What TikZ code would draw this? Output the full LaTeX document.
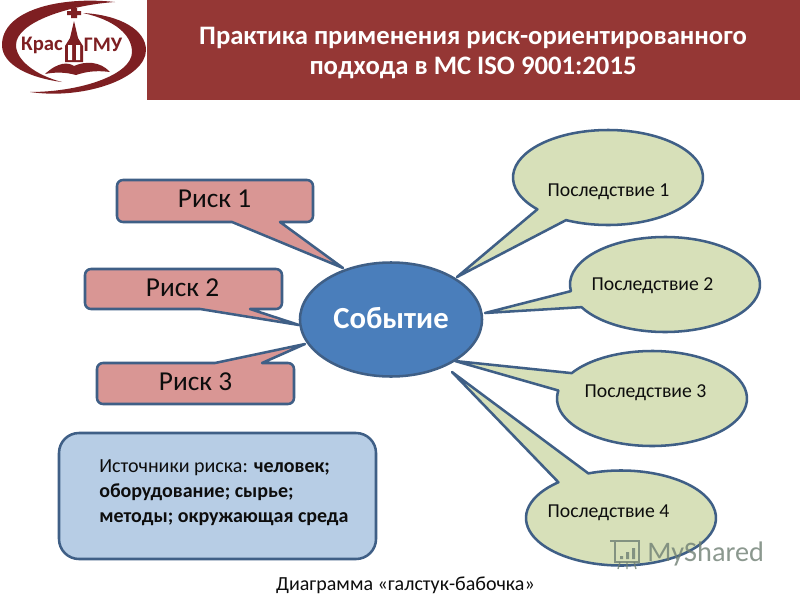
\documentclass[tikz,border=0pt]{standalone}
\usepackage{fontspec}
\setmainfont{Carlito}
\definecolor{hdr}{HTML}{953735}
\definecolor{logored}{HTML}{7E1F22}
\definecolor{edgeblue}{HTML}{3F5F86}
\definecolor{riskfill}{HTML}{D99694}
\definecolor{conseq}{HTML}{D7E0B9}
\definecolor{evfill}{HTML}{4A7EBB}
\definecolor{srcfill}{HTML}{B7CDE5}
\definecolor{wmgray}{HTML}{6F7F73}
\tikzset{
  shapeline/.style={draw=edgeblue,line width=1.9pt,line join=round},
  risktext/.style={font=\fontsize{20.5}{24}\selectfont,text=black!95,inner sep=0pt},
  conseqtext/.style={font=\fontsize{14.8}{18}\selectfont,text=black!95,inner sep=0pt},
  logotext/.style={font=\bfseries\fontsize{15.5}{18}\selectfont,text=logored,inner sep=0pt},
}
% centre x, centre y, tip x, tip y, start angle, end angle
\newcommand{\bubble}[6]{%
  \draw[shapeline,fill=conseq] (#3,#4) -- ({#1+95*cos(#5)},{#2+47.5*sin(#5)})
    arc[start angle=#5,end angle=#6,x radius=95,y radius=47.5] -- cycle;}
% left, top, right, bottom, then pointer: base a x, tip x, tip y, base b x
\newcommand{\riskbelow}[8]{%
  \draw[shapeline,fill=riskfill] (#5,#4) -- (#6,#7) -- (#8,#4)
    [rounded corners=4.5] -- (#3,#4) -- (#3,#2) -- (#1,#2) -- (#1,#4) [sharp corners] -- cycle;}
\newcommand{\riskabove}[8]{%
  \draw[shapeline,fill=riskfill] (#5,#2) -- (#6,#7) -- (#8,#2)
    [rounded corners=4.5] -- (#3,#2) -- (#3,#4) -- (#1,#4) -- (#1,#2) [sharp corners] -- cycle;}
\begin{document}
\begin{tikzpicture}[x=0.75pt,y=-0.75pt]
\useasboundingbox (0,0) rectangle (800,600);
\fill[white] (0,0) rectangle (800,600);
% header
\fill[hdr] (147,0) rectangle (800,100);
\node[align=center,text=white,font=\bfseries\fontsize{20}{22.5}\selectfont,inner sep=0pt] (title) at (473,53.5)
  {Практика применения риск-ориентированного\\подхода в МС ISO 9001:2015};
% logo
\fill[logored] (115,2) .. controls (60,-4) and (2,10) .. (2,45) .. controls (2,65) and (30,78) .. (62,82)
  .. controls (35,75) and (16,60) .. (16,45) .. controls (16,22) and (70,5) .. (115,2) -- cycle;
\fill[logored] (83,13) .. controls (120,15) and (146,30) .. (146,50) .. controls (146,78) and (85,100) .. (30,92)
  .. controls (80,92) and (132,75) .. (132,52) .. controls (132,35) and (115,20) .. (83,13) -- cycle;
\fill[logored] (74,21) -- (78,38) -- (83,46) -- (83,62) -- (65,62) -- (65,46) -- (70,38) -- cycle;
\fill[white] (68,45) rectangle (72,60) (76,45) rectangle (80,60);
\fill[logored] (71,8) rectangle (77,18) (67,11) rectangle (81,15);
\fill[logored] (45,74) .. controls (58,62) and (68,62) .. (74,66) .. controls (85,61) and (100,61) .. (110,72)
  .. controls (95,70) and (85,72) .. (76,75) .. controls (65,72) and (55,72) .. (45,74) -- cycle;
\node[logotext] (logoa) at (42,45) {Крас};
\node[logotext] (logob) at (103,45) {ГМУ};
% consequences
\bubble{608}{177.5}{457}{277}{138}{476.2}
\bubble{665}{284.5}{485}{313}{172}{511.5}
\bubble{652}{398.5}{455}{361}{212.3}{549.7}
\bubble{621}{518}{452}{372}{249.9}{588.8}
\node[conseqtext] (c1) at (608.5,192) {Последствие 1};
\node[conseqtext] (c2) at (652.5,286) {Последствие 2};
\node[conseqtext] (c3) at (645.5,393) {Последствие 3};
\node[conseqtext] (c4) at (608.5,513) {Последствие 4};
% risks
\riskbelow{117}{180}{313}{222}{232}{343}{268}{280}
\riskbelow{85}{269}{282}{309}{200}{299}{325}{250}
\riskabove{97}{363}{294}{404}{215}{305}{344}{262}
\node[risktext] (r1) at (214.5,199) {Риск 1};
\node[risktext] (r2) at (182.5,287.5) {Риск 2};
\node[risktext] (r3) at (195.5,382) {Риск 3};
% event
\draw[shapeline,fill=evfill] (391,319.5) ellipse [x radius=91,y radius=57];
\node[text=white,font=\bfseries\fontsize{23}{26}\selectfont,inner sep=0pt] (event) at (391,318) {Событие};
% sources
\draw[shapeline,fill=srcfill,rounded corners=15] (59,433) rectangle (376,559);
\node[anchor=west,align=left,text=black!95,font=\fontsize{15}{18.6}\selectfont,inner sep=0pt] (src) at (99,492.5)
  {Источники риска: \textbf{человек;}\\\textbf{оборудование; сырье;}\\\textbf{методы; окружающая среда}};
% caption
\node[text=black!95,font=\fontsize{15}{18}\selectfont,inner sep=0pt] (cap) at (405.5,585) {Диаграмма «галстук-бабочка»};
% watermark
\begin{scope}[opacity=0.8]
\draw[wmgray,line width=1.4pt] (610,541) -- (640,541) (615,541) rectangle (639,562);
\fill[wmgray] (620,556) rectangle (623,559) (626,552) rectangle (629,559) (632,548) rectangle (635,559);
\draw[wmgray,line width=1pt] (620,562) -- (618,569) (627,562) -- (627,569) (634,562) -- (636,569);
\node[text=wmgray,font=\fontsize{21.2}{26}\selectfont,inner sep=0pt,anchor=west] (wm) at (647,554) {MyShared};
\end{scope}
\end{tikzpicture}
\end{document}
